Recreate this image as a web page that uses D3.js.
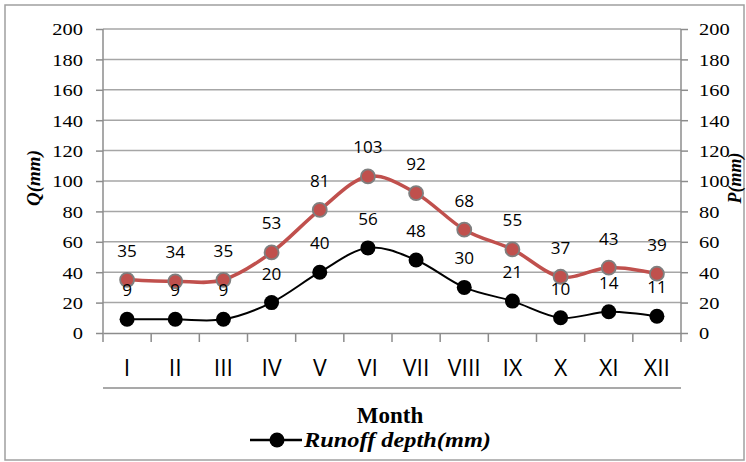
<!DOCTYPE html>
<html>
<head>
<meta charset="utf-8">
<script src="https://cdn.jsdelivr.net/npm/d3@7"></script>
<style>
  html, body { margin: 0; padding: 0; background: #fff; }
  svg { display: block; }
</style>
</head>
<body>
<svg id="chart" width="746" height="462"></svg>
<script>
// Monthly precipitation (P) and runoff depth (Q), mm
const months = ["I", "II", "III", "IV", "V", "VI", "VII", "VIII", "IX", "X", "XI", "XII"];
const precipitation = [35, 34, 35, 53, 81, 103, 92, 68, 55, 37, 43, 39];
const runoff = [9, 9, 9, 20, 40, 56, 48, 30, 21, 10, 14, 11];
const yTicks = [0, 20, 40, 60, 80, 100, 120, 140, 160, 180, 200];

const svg = d3.select("#chart");
const plot = { left: 103, right: 681, top: 29, bottom: 333 };

const x = d3.scaleBand().domain(months).range([plot.left, plot.right]);
const y = d3.scaleLinear().domain([0, 200]).range([plot.bottom, plot.top]);
const cx = m => x(m) + x.bandwidth() / 2;

const gridColor = "#a6a6a6";
const axisColor = "#8c8c8c";
const serif = "'Liberation Serif', 'Times New Roman', serif";
const sans = "'Open Sans', 'Noto Sans', sans-serif";

// outer frame
svg.append("rect")
  .attr("x", 5).attr("y", 5).attr("width", 739).attr("height", 455)
  .attr("fill", "none").attr("stroke", "#a0a0a0").attr("stroke-width", 1.5);

// horizontal gridlines
svg.append("g").selectAll("line").data(yTicks.filter(d => d > 0)).join("line")
  .attr("x1", plot.left).attr("x2", plot.right)
  .attr("y1", d => y(d)).attr("y2", d => y(d))
  .attr("stroke", gridColor).attr("stroke-width", 1.5);

// left value axis
const leftAxis = svg.append("g")
  .attr("transform", `translate(${plot.left},0)`)
  .call(d3.axisLeft(y).tickValues(yTicks).tickSize(7).tickPadding(13));
// right value axis
const rightAxis = svg.append("g")
  .attr("transform", `translate(${plot.right},0)`)
  .call(d3.axisRight(y).tickValues(yTicks).tickSize(7).tickPadding(11));

[leftAxis, rightAxis].forEach(g => {
  g.attr("font-family", serif).attr("font-size", 17.5);
  g.select(".domain").remove();
  g.selectAll(".tick line").attr("stroke", axisColor).attr("stroke-width", 1.5);
  g.selectAll(".tick text")
    .attr("class", "stretch").attr("data-k", 1.17)
    .attr("fill", "#000")
    .attr("font-family", serif)
    .attr("dy", "0.34em");
});

// vertical axis lines, extending down past the category baseline
[plot.left, plot.right].forEach(px => {
  svg.append("line")
    .attr("x1", px).attr("x2", px).attr("y1", plot.top).attr("y2", plot.bottom + 9)
    .attr("stroke", axisColor).attr("stroke-width", 1.5);
});

// category axis
const bottomAxis = svg.append("g")
  .attr("transform", `translate(0,${plot.bottom})`)
  .call(d3.axisBottom(x).tickSize(0).tickPadding(27));
bottomAxis.attr("font-family", sans).attr("font-size", 23);
bottomAxis.select(".domain").attr("stroke", axisColor).attr("stroke-width", 1.5);
bottomAxis.selectAll(".tick text")
  .attr("fill", "#000")
  .attr("dy", "0.71em");
// category boundary ticks
svg.append("g").selectAll("line").data(months.slice(1)).join("line")
  .attr("x1", d => x(d)).attr("x2", d => x(d))
  .attr("y1", plot.bottom).attr("y2", plot.bottom + 9)
  .attr("stroke", axisColor).attr("stroke-width", 1.5);
// rule under the category labels
svg.append("line")
  .attr("x1", plot.left).attr("x2", plot.right).attr("y1", 388).attr("y2", 388)
  .attr("stroke", axisColor).attr("stroke-width", 1.5);

// smoothed series lines
const line = d3.line()
  .x((d, i) => cx(months[i]))
  .y(d => y(d))
  .curve(d3.curveCardinal.tension(0));

svg.append("path").datum(precipitation)
  .attr("d", line).attr("fill", "none")
  .attr("stroke", "#c0504d").attr("stroke-width", 3.5);
svg.append("path").datum(runoff)
  .attr("d", line).attr("fill", "none")
  .attr("stroke", "#000").attr("stroke-width", 2);

// markers
svg.append("g").selectAll("circle").data(precipitation).join("circle")
  .attr("cx", (d, i) => cx(months[i])).attr("cy", d => y(d)).attr("r", 7)
  .attr("fill", "#c0504d").attr("stroke", "#7f7f7f").attr("stroke-width", 1.8);
svg.append("g").selectAll("circle").data(runoff).join("circle")
  .attr("cx", (d, i) => cx(months[i])).attr("cy", d => y(d)).attr("r", 7.5)
  .attr("fill", "#000");

// value labels above each point
function valueLabels(values) {
  svg.append("g").selectAll("text").data(values).join("text")
    .attr("class", "stretch").attr("data-k", 1.07)
    .attr("x", (d, i) => cx(months[i]))
    .attr("y", d => y(d) - 23)
    .attr("text-anchor", "middle")
    .attr("font-family", sans).attr("font-size", 16)
    .attr("fill", "#000")
    .text(d => d);
}
valueLabels(precipitation);
valueLabels(runoff);

// axis titles
svg.append("text")
  .attr("transform", "translate(40,178) rotate(-90)")
  .attr("text-anchor", "middle")
  .attr("font-family", serif).attr("font-size", 19)
  .attr("font-weight", "bold").attr("font-style", "italic")
  .text("Q(mm)");
svg.append("text")
  .attr("transform", "translate(741,178) rotate(-90)")
  .attr("text-anchor", "middle")
  .attr("font-family", serif).attr("font-size", 18)
  .attr("font-weight", "bold").attr("font-style", "italic")
  .text("P(mm)");
svg.append("text")
  .attr("x", 390).attr("y", 423)
  .attr("text-anchor", "middle")
  .attr("font-family", serif).attr("font-size", 23).attr("font-weight", "bold")
  .text("Month");

// legend
svg.append("line")
  .attr("x1", 250).attr("x2", 302).attr("y1", 440).attr("y2", 440)
  .attr("stroke", "#000").attr("stroke-width", 2.5);
svg.append("circle")
  .attr("cx", 277).attr("cy", 440).attr("r", 7.5).attr("fill", "#000");
svg.append("text")
  .attr("class", "stretch").attr("data-k", 1.16)
  .attr("x", 304).attr("y", 447)
  .attr("font-family", serif).attr("font-size", 21)
  .attr("font-weight", "bold").attr("font-style", "italic")
  .text("Runoff depth(mm)");

// widen text horizontally about its anchor x
svg.selectAll("text.stretch").each(function () {
  const k = +this.getAttribute("data-k");
  const x0 = +(this.getAttribute("x") || 0);
  this.setAttribute("transform", `translate(${(x0 * (1 - k)).toFixed(2)},0) scale(${k},1)`);
});
</script>
</body>
</html>
